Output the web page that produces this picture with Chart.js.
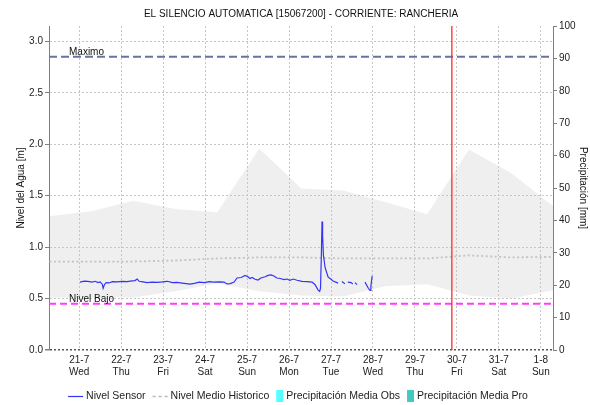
<!DOCTYPE html>
<html>
<head>
<meta charset="utf-8">
<title>EL SILENCIO AUTOMATICA - Nivel</title>
<script src="https://cdn.jsdelivr.net/npm/chart.js@4.4.0/dist/chart.umd.min.js"></script>
<style>
    html, body { margin: 0; padding: 0; background: #ffffff; }
    #wrap { width: 590px; height: 405px; }
</style>
</head>
<body>
<div id="wrap"><canvas id="NivelChart"></canvas></div>
<script>
// X values are days counted from 21-7 00:00 (fraction = hour / 24).
var dayTicks = [0, 1, 2, 3, 4, 5, 6, 7, 8, 9, 10, 11];
var dayLabels = ["21-7", "22-7", "23-7", "24-7", "25-7", "26-7", "27-7", "28-7", "29-7", "30-7", "31-7", "1-8"];
var weekdayLabels = ["Wed", "Thu", "Fri", "Sat", "Sun", "Mon", "Tue", "Wed", "Thu", "Fri", "Sat", "Sun"];
var levelTicks = [0, 0.5, 1, 1.5, 2, 2.5, 3];
var precipTicks = [0, 10, 20, 30, 40, 50, 60, 70, 80, 90, 100];
var xStart = -0.72;
var xEnd = 11.29;
var levelMax = 3.15;
var precipMax = 100;

// Reference levels [m] and the current time marker.
var maximo = 2.85;
var nivelBajo = 0.45;
var nowDay = 8.88;

// Sensor readings (null = no data).
var sensorDays = [0.02, 0.12, 0.21, 0.31, 0.38, 0.45, 0.50, 0.55, 0.57, 0.60, 0.64, 0.71, 0.79, 0.90, 1.02, 1.14, 1.26, 1.33, 1.38, 1.43,
    1.52, 1.62, 1.74, 1.86, 1.98, 2.10, 2.22, 2.33, 2.45, 2.55, 2.64, 2.74, 2.86, 2.98, 3.10, 3.21, 3.33, 3.45, 3.52, 3.60,
    3.69, 3.76, 3.86, 3.95, 4.02, 4.07, 4.12, 4.19, 4.26, 4.33, 4.43, 4.50, 4.57, 4.64, 4.71, 4.79, 4.88, 4.95, 5.02, 5.10,
    5.19, 5.31, 5.43, 5.55, 5.62, 5.69, 5.73, 5.75, 5.77, 5.786, 5.80, 5.82, 5.86, 5.93, 6.05, 6.17, 6.21, 6.26, 6.33, 6.37,
    6.40, 6.48, 6.52, 6.545, 6.57, 6.62, 6.71, 6.81, 6.89, 6.93, 6.95, 6.98];
var sensorLevels = [0.66, 0.67, 0.668, 0.66, 0.668, 0.655, 0.662, 0.64, 0.60, 0.635, 0.655, 0.652, 0.665, 0.662, 0.668, 0.665, 0.672, 0.675, 0.69, 0.668,
    0.662, 0.655, 0.66, 0.658, 0.662, 0.668, 0.655, 0.657, 0.65, 0.645, 0.64, 0.648, 0.66, 0.655, 0.665, 0.66, 0.662, 0.66, 0.642, 0.645,
    0.66, 0.70, 0.705, 0.725, 0.712, 0.695, 0.705, 0.688, 0.68, 0.70, 0.712, 0.725, 0.73, 0.72, 0.70, 0.695, 0.685, 0.69, 0.678, 0.69,
    0.678, 0.668, 0.665, 0.66, 0.635, 0.585, 0.57, 0.60, 0.92, 1.25, 1.10, 0.92, 0.80, 0.71, 0.67, 0.65, null, 0.665, 0.645, null,
    0.66, 0.655, 0.64, null, 0.655, 0.635, null, 0.66, 0.60, 0.58, 0.62, 0.72];

// Historic daily statistics (07:00 each day).
var histDays = [-0.71, 0.29, 1.29, 2.29, 3.29, 4.29, 5.29, 6.29, 7.29, 8.29, 9.29, 10.29, 11.29];
var histUpper = [1.30, 1.35, 1.45, 1.37, 1.34, 1.96, 1.57, 1.55, 1.44, 1.32, 1.95, 1.72, 1.40];
var histLower = [0.51, 0.51, 0.51, 0.57, 0.65, 0.57, 0.53, 0.52, 0.62, 0.64, 0.53, 0.50, 0.58];
var histMedio = [0.86, 0.86, 0.86, 0.87, 0.89, 0.90, 0.90, 0.89, 0.89, 0.89, 0.92, 0.90, 0.905];

// Precipitation series (no values in this period).
var precipDays = [];
var precipObs = [];
var precipPro = [];

var FONT = '"Liberation Sans", Arial, sans-serif';

function toPoints(xs, ys) {
    return xs.map(function (x, i) { return { x: x, y: ys[i] }; });
}

// Dashed horizontal labels "Maximo" / "Nivel Bajo".
var lineLabels = {
    id: 'lineLabels',
    afterDatasetsDraw: function (chart) {
        var ctx = chart.ctx;
        ctx.save();
        ctx.font = '10px ' + FONT;
        ctx.fillStyle = '#111111';
        ctx.textBaseline = 'alphabetic';
        chart.data.datasets.forEach(function (ds) {
            if (!ds.lineLabel) return;
            var y = chart.scales.y.getPixelForValue(ds.data[0].y);
            ctx.fillText(ds.lineLabel, chart.chartArea.left + 20, y - 2);
        });
        ctx.restore();
    }
};

// Legend row under the axis.
var bottomLegend = {
    id: 'bottomLegend',
    afterDraw: function (chart) {
        var ctx = chart.ctx;
        var items = chart.data.datasets.filter(function (ds) { return ds.legendSymbol; });
        ctx.save();
        ctx.font = '10.5px ' + FONT;
        ctx.textBaseline = 'middle';
        var symW = function (s) { return s === 'box' ? 7 : 15; };
        var widths = items.map(function (ds) { return symW(ds.legendSymbol) + 3 + ctx.measureText(ds.label).width; });
        var gap = 7;
        var total = widths.reduce(function (a, b) { return a + b; }, 0) + gap * (items.length - 1);
        var x = (chart.chartArea.left + chart.chartArea.right) / 2 - 3 - total / 2;
        var y = 396;
        items.forEach(function (ds, i) {
            var s = ds.legendSymbol;
            if (s === 'box') {
                ctx.fillStyle = ds.backgroundColor;
                ctx.fillRect(x, y - 6, 7, 12);
            } else {
                ctx.beginPath();
                ctx.strokeStyle = s === 'dash' ? '#b8b8b8' : ds.borderColor;
                ctx.lineWidth = s === 'dash' ? 1.5 : 1.2;
                ctx.setLineDash(s === 'dash' ? [3, 3] : []);
                ctx.moveTo(x, y + 0.5);
                ctx.lineTo(x + 15, y + 0.5);
                ctx.stroke();
                ctx.setLineDash([]);
            }
            ctx.fillStyle = '#222222';
            ctx.fillText(ds.label, x + symW(s) + 3, y + 0.5);
            x += widths[i] + gap;
        });
        ctx.restore();
    }
};

document.addEventListener("DOMContentLoaded", function () {
    Chart.defaults.font.family = FONT;
    Chart.defaults.font.size = 10;
    Chart.defaults.color = '#222222';

    var ctx = document.getElementById("NivelChart");
    new Chart(ctx, {
        type: 'line',
        data: {
            datasets: [{
                label: 'Nivel Sensor',
                legendSymbol: 'line',
                data: toPoints(sensorDays, sensorLevels),
                borderColor: '#3434f4',
                borderWidth: 1.2,
                pointRadius: 0,
                spanGaps: false,
                tension: 0
            }, {
                label: 'Ahora',
                data: [{ x: nowDay, y: 0 }, { x: nowDay, y: levelMax }],
                borderColor: '#ff2a2a',
                borderWidth: 1.3,
                pointRadius: 0
            }, {
                label: 'Maximo',
                lineLabel: 'Maximo',
                data: [{ x: xStart, y: maximo }, { x: xEnd, y: maximo }],
                borderColor: '#6a72a0',
                borderWidth: 2,
                borderDash: [8, 4],
                pointRadius: 0
            }, {
                label: 'Nivel Bajo',
                lineLabel: 'Nivel Bajo',
                data: [{ x: xStart, y: nivelBajo }, { x: xEnd, y: nivelBajo }],
                borderColor: '#ff3dff',
                borderWidth: 2,
                borderDash: [7, 4],
                pointRadius: 0
            }, {
                label: 'Nivel Medio Historico',
                legendSymbol: 'dash',
                data: toPoints(histDays, histMedio),
                borderColor: '#c2c2c2',
                borderWidth: 1.8,
                borderDash: [2, 2.5],
                pointRadius: 0
            }, {
                type: 'bar',
                label: 'Precipitación Media Obs',
                legendSymbol: 'box',
                yAxisID: 'y1',
                data: toPoints(precipDays, precipObs),
                backgroundColor: '#55ffff'
            }, {
                type: 'bar',
                label: 'Precipitación Media Pro',
                legendSymbol: 'box',
                yAxisID: 'y1',
                data: toPoints(precipDays, precipPro),
                backgroundColor: '#44c8c0'
            }, {
                label: 'Maximo Historico',
                data: toPoints(histDays, histUpper),
                borderColor: 'rgba(0,0,0,0)',
                borderWidth: 0,
                backgroundColor: '#efefef',
                fill: '+1',
                pointRadius: 0
            }, {
                label: 'Minimo Historico',
                data: toPoints(histDays, histLower),
                borderColor: 'rgba(0,0,0,0)',
                borderWidth: 0,
                fill: false,
                pointRadius: 0
            }]
        },
        options: {
            responsive: true,
            maintainAspectRatio: false,
            animation: false,
            events: [],
            layout: { padding: { left: 12, right: 0, top: 0, bottom: 0 } },
            plugins: {
                legend: { display: false },
                tooltip: { enabled: false },
                filler: { drawTime: 'beforeDraw' },
                title: {
                    display: true,
                    text: 'EL SILENCIO AUTOMATICA [15067200] - CORRIENTE: RANCHERIA',
                    color: '#111111',
                    font: { size: 10, weight: 'normal' },
                    padding: { top: 8, bottom: 6 }
                }
            },
            scales: {
                x: {
                    type: 'linear',
                    min: xStart,
                    max: xEnd,
                    offset: false,
                    afterFit: function (scale) { scale.height = 55; },
                    afterBuildTicks: function (scale) {
                        scale.ticks = dayTicks.map(function (v) { return { value: v }; });
                    },
                    ticks: {
                        autoSkip: false,
                        maxRotation: 0,
                        padding: 4,
                        color: '#222222',
                        callback: function (value) {
                            var i = dayTicks.indexOf(value);
                            return i < 0 ? '' : [dayLabels[i], weekdayLabels[i]];
                        }
                    },
                    grid: { color: '#c6c6c6', drawTicks: false, offset: false },
                    border: { display: false, dash: [2, 2] }
                },
                y: {
                    position: 'left',
                    min: 0,
                    max: levelMax,
                    afterFit: function (scale) { scale.width = 37; },
                    afterBuildTicks: function (scale) {
                        scale.ticks = levelTicks.map(function (v) { return { value: v }; });
                    },
                    ticks: {
                        padding: 2,
                        color: '#222222',
                        callback: function (value) { return value.toFixed(1); }
                    },
                    title: {
                        display: true,
                        text: 'Nivel del Agua [m]',
                        color: '#111111',
                        font: { size: 10 },
                        padding: { top: 3, bottom: 0 }
                    },
                    grid: {
                        color: function (c) { return c.tick && c.tick.value === 0 ? '#555555' : '#c6c6c6'; },
                        lineWidth: function (c) { return c.tick && c.tick.value === 0 ? 1.5 : 1; },
                        tickLength: 4,
                        tickColor: '#808080',
                        tickBorderDash: []
                    },
                    border: { display: true, color: '#808080', width: 1, dash: [2, 2] }
                },
                y1: {
                    position: 'right',
                    min: 0,
                    max: precipMax,
                    afterFit: function (scale) { scale.width = 37; },
                    afterBuildTicks: function (scale) {
                        scale.ticks = precipTicks.map(function (v) { return { value: v }; });
                    },
                    ticks: { padding: 2, color: '#222222' },
                    title: {
                        display: true,
                        text: 'Precipitación [mm]',
                        color: '#111111',
                        font: { size: 10 },
                        padding: { top: 1, bottom: 0 }
                    },
                    grid: {
                        drawOnChartArea: false,
                        tickLength: 4,
                        tickColor: '#808080',
                        tickBorderDash: []
                    },
                    border: { display: true, color: '#808080', width: 1 }
                }
            }
        },
        plugins: [lineLabels, bottomLegend]
    });
});
</script>
</body>
</html>
